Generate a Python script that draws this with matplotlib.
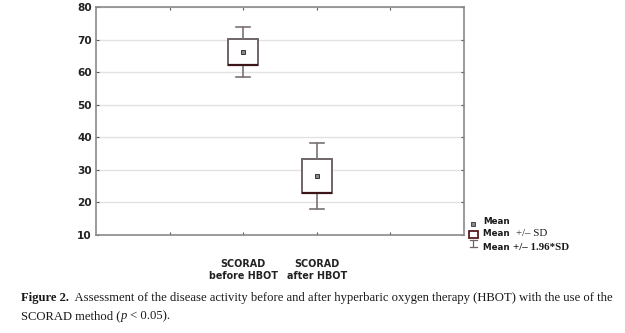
import matplotlib
matplotlib.use("Agg")
import matplotlib.pyplot as plt
from matplotlib.patches import Rectangle
from matplotlib.lines import Line2D

# SCORAD summary statistics
groups = ["SCORAD\nbefore HBOT", "SCORAD\nafter HBOT"]
means = [66.2, 28.1]
sds = [3.9, 5.15]
positions = [2, 3]
yticks = [10, 20, 30, 40, 50, 60, 70, 80]

fig = plt.figure(figsize=(6.25, 3.33), dpi=100)
ax = fig.add_axes([96 / 625, 1 - 235 / 333, 368 / 625, 228 / 333])

stats = []
for g, m, s in zip(groups, means, sds):
    stats.append(dict(label=g, med=m, mean=m, q1=m - s, q3=m + s,
                      whislo=m - 1.96 * s, whishi=m + 1.96 * s))

edge = "#6f6567"
ax.bxp(stats, positions=positions, widths=0.4, showmeans=True,
       showfliers=False, patch_artist=True,
       boxprops=dict(facecolor="white", edgecolor=edge, linewidth=1.4),
       whiskerprops=dict(color="#7b7173", linewidth=1.2),
       capprops=dict(color="#7b7173", linewidth=1.2),
       capwidths=0.19,
       medianprops=dict(visible=False),
       meanprops=dict(marker="s", markersize=2.6, markerfacecolor="#8a8a8a",
                      markeredgecolor="#222222", markeredgewidth=0.6))

# darker lower box edge
for p, m, s in zip(positions, means, sds):
    ax.hlines(m - s, p - 0.2, p + 0.2, color="#3b1518", linewidth=1.6, zorder=3)

ax.set_xlim(0, 5)
ax.set_ylim(10, 80)
ax.set_yticks(yticks)
ax.set_yticklabels([str(v) for v in yticks], fontweight="bold", fontsize=7.6,
                   color="#222222")
ax.set_xticks([1, 2, 3, 4])
ax.set_xticklabels(["", groups[0], groups[1], ""], fontsize=6.9,
                   fontweight="bold", color="#222222", linespacing=1.3)
ax.tick_params(axis="both", direction="in", length=2.5, width=0.8,
               color="#555555", top=True, right=True, pad=3)
ax.tick_params(axis="x", pad=17)
ax.grid(axis="y", color="#e2e2e2", linewidth=1.0)
ax.set_axisbelow(True)
for sp in ax.spines.values():
    sp.set_color("#8a8a8a")
    sp.set_linewidth(1.2)


def fx(x):
    return x / 625


def fy(y):
    return 1 - y / 333


renderer = fig.canvas.get_renderer()


def put_run(x, y, pieces):
    """Draw text pieces one after another on a line starting at pixel x."""
    for txt, kw in pieces:
        t = fig.text(fx(x), fy(y), txt, va="center", color="#1a1a1a", **kw)
        x += t.get_window_extent(renderer).width


# legend
fig.add_artist(Line2D([fx(473)], [fy(224)], marker="s", markersize=2.6,
                      markerfacecolor="#8a8a8a", markeredgecolor="#333333",
                      markeredgewidth=0.6, transform=fig.transFigure))
fig.add_artist(Rectangle((fx(469), fy(238)), 9 / 625, 7 / 333,
                         facecolor="white", edgecolor="#5a1a1e", linewidth=1.3,
                         transform=fig.transFigure))
for seg in [((473, 240), (473, 247)), ((469.5, 240), (476.5, 240)),
            ((469.5, 247), (476.5, 247))]:
    fig.add_artist(Line2D([fx(seg[0][0]), fx(seg[1][0])],
                          [fy(seg[0][1]), fy(seg[1][1])],
                          color="#6f6567", linewidth=0.9,
                          transform=fig.transFigure))

sans_b = dict(fontsize=6.3, fontweight="bold")
serif = dict(fontsize=7.8, family="Liberation Serif")
serif_b = dict(fontsize=7.8, family="Liberation Serif", fontweight="bold")
put_run(483, 222, [("Mean", sans_b)])
put_run(483, 234, [("Mean  ", sans_b), ("+/\u2013 SD", serif)])
put_run(483, 247, [("Mean ", sans_b), ("+/\u2013 1.96*SD", serif_b)])

# caption
fs = 9.1
cap = dict(fontsize=fs, family="Liberation Serif")
cap_b = dict(fontsize=fs, family="Liberation Serif", fontweight="bold")
cap_i = dict(fontsize=fs, family="Liberation Serif", style="italic")
put_run(21, 298, [("Figure 2.", cap_b),
                  ("  Assessment of the disease activity before and after "
                   "hyperbaric oxygen therapy (HBOT) with the use of the", cap)])
put_run(21, 316, [("SCORAD method (", cap), ("p", cap_i), (" < 0.05).", cap)])

fig.savefig("out.png", dpi=100)
